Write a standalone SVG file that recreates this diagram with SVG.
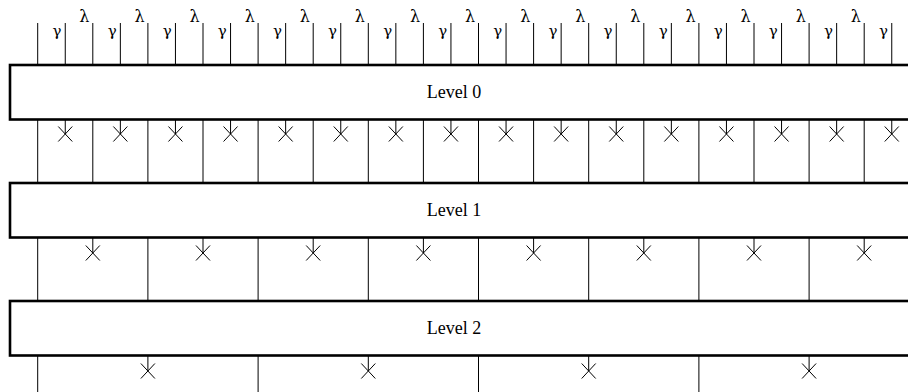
<svg xmlns="http://www.w3.org/2000/svg" width="908" height="392" viewBox="0 0 908 392">
<style>
.box{fill:#fff;stroke:#000;stroke-width:2.6}
.lbl{font-size:18px;fill:#000;text-anchor:middle}
.gl{font-size:15px;fill:#000;text-anchor:end}
.lm{font-size:16px;fill:#000;text-anchor:end}
.ln{stroke:#000;stroke-width:1;fill:none}
</style>
<defs>
<path id="x" d="M-7,-7.5L7,7.5M-7,7.5L7,-7.5" stroke="#000" stroke-width="1" fill="none"/>
</defs>
<rect width="908" height="392" fill="#fff"/>
<g id="level0"><rect class="box" x="10" y="65" width="910" height="54.5"/><text class="lbl" font-family="'Liberation Serif', 'Times New Roman', serif" x="454" y="98">Level 0</text></g>
<g id="level1"><rect class="box" x="10" y="183" width="910" height="54.5"/><text class="lbl" font-family="'Liberation Serif', 'Times New Roman', serif" x="454" y="216">Level 1</text></g>
<g id="level2"><rect class="box" x="10" y="301" width="910" height="54.5"/><text class="lbl" font-family="'Liberation Serif', 'Times New Roman', serif" x="454" y="334">Level 2</text></g>
<g id="connectors" class="ln">
<path d="M37.7,23V65M65.25,23V65M92.8,23V65M120.35,23V65M147.9,23V65M175.45,23V65M203,23V65M230.55,23V65M258.1,23V65M285.65,23V65M313.2,23V65M340.75,23V65M368.3,23V65M395.85,23V65M423.4,23V65M450.95,23V65M478.5,23V65M506.05,23V65M533.6,23V65M561.15,23V65M588.7,23V65M616.25,23V65M643.8,23V65M671.35,23V65M698.9,23V65M726.45,23V65M754,23V65M781.55,23V65M809.1,23V65M836.65,23V65M864.2,23V65M891.75,23V65"/>
<path d="M37.7,120V183M92.8,120V183M147.9,120V183M203,120V183M258.1,120V183M313.2,120V183M368.3,120V183M423.4,120V183M478.5,120V183M533.6,120V183M588.7,120V183M643.8,120V183M698.9,120V183M754,120V183M809.1,120V183M864.2,120V183"/>
<path d="M65.25,120V134M120.35,120V134M175.45,120V134M230.55,120V134M285.65,120V134M340.75,120V134M395.85,120V134M450.95,120V134M506.05,120V134M561.15,120V134M616.25,120V134M671.35,120V134M726.45,120V134M781.55,120V134M836.65,120V134M891.75,120V134"/>
<path d="M37.7,238V301M147.9,238V301M258.1,238V301M368.3,238V301M478.5,238V301M588.7,238V301M698.9,238V301M809.1,238V301"/>
<path d="M92.8,238V253M203,238V253M313.2,238V253M423.4,238V253M533.6,238V253M643.8,238V253M754,238V253M864.2,238V253"/>
<path d="M37.7,356V392M258.1,356V392M478.5,356V392M698.9,356V392"/>
<path d="M147.9,356V371M368.3,356V371M588.7,356V371M809.1,356V371"/>
<use href="#x" x="65.25" y="134"/><use href="#x" x="120.35" y="134"/><use href="#x" x="175.45" y="134"/><use href="#x" x="230.55" y="134"/><use href="#x" x="285.65" y="134"/><use href="#x" x="340.75" y="134"/><use href="#x" x="395.85" y="134"/><use href="#x" x="450.95" y="134"/><use href="#x" x="506.05" y="134"/><use href="#x" x="561.15" y="134"/><use href="#x" x="616.25" y="134"/><use href="#x" x="671.35" y="134"/><use href="#x" x="726.45" y="134"/><use href="#x" x="781.55" y="134"/><use href="#x" x="836.65" y="134"/><use href="#x" x="891.75" y="134"/>
<use href="#x" x="92.8" y="253"/><use href="#x" x="203" y="253"/><use href="#x" x="313.2" y="253"/><use href="#x" x="423.4" y="253"/><use href="#x" x="533.6" y="253"/><use href="#x" x="643.8" y="253"/><use href="#x" x="754" y="253"/><use href="#x" x="864.2" y="253"/>
<use href="#x" x="147.9" y="371"/><use href="#x" x="368.3" y="371"/><use href="#x" x="588.7" y="371"/><use href="#x" x="809.1" y="371"/>
</g>
<g id="labels" font-family="'DejaVu Serif', 'Liberation Serif', serif">
<text class="gl" x="61.5" y="36">γ</text><text class="gl" x="116.6" y="36">γ</text><text class="gl" x="171.7" y="36">γ</text><text class="gl" x="226.8" y="36">γ</text><text class="gl" x="281.9" y="36">γ</text><text class="gl" x="337" y="36">γ</text><text class="gl" x="392.1" y="36">γ</text><text class="gl" x="447.2" y="36">γ</text><text class="gl" x="502.3" y="36">γ</text><text class="gl" x="557.4" y="36">γ</text><text class="gl" x="612.5" y="36">γ</text><text class="gl" x="667.6" y="36">γ</text><text class="gl" x="722.7" y="36">γ</text><text class="gl" x="777.8" y="36">γ</text><text class="gl" x="832.9" y="36">γ</text><text class="gl" x="888" y="36">γ</text>
<text class="lm" x="89.5" y="22">λ</text><text class="lm" x="144.6" y="22">λ</text><text class="lm" x="199.7" y="22">λ</text><text class="lm" x="254.8" y="22">λ</text><text class="lm" x="309.9" y="22">λ</text><text class="lm" x="365" y="22">λ</text><text class="lm" x="420.1" y="22">λ</text><text class="lm" x="475.2" y="22">λ</text><text class="lm" x="530.3" y="22">λ</text><text class="lm" x="585.4" y="22">λ</text><text class="lm" x="640.5" y="22">λ</text><text class="lm" x="695.6" y="22">λ</text><text class="lm" x="750.7" y="22">λ</text><text class="lm" x="805.8" y="22">λ</text><text class="lm" x="860.9" y="22">λ</text>
</g>
</svg>
